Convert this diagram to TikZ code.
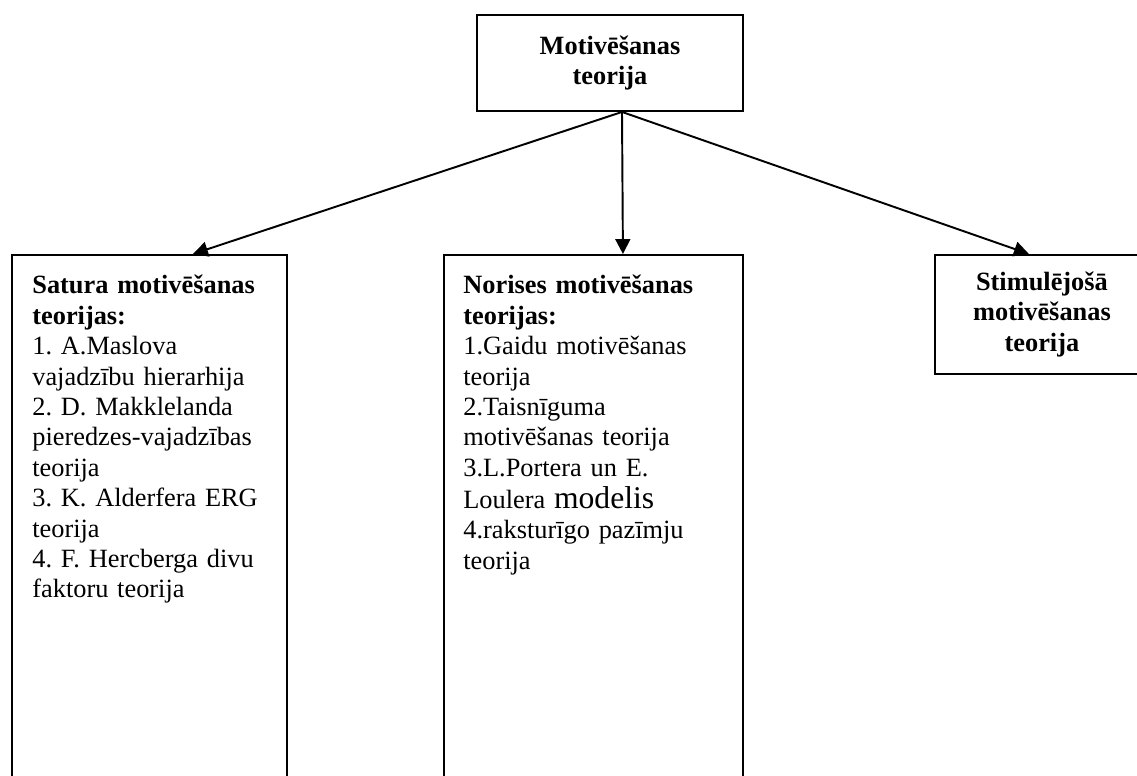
\documentclass[tikz,border=0pt]{standalone}
\usepackage{fontspec}
\setmainfont{Liberation Serif}
\usetikzlibrary{arrows.meta, positioning, calc}
\newcommand{\boxfont}{\fontsize{15}{17.3}\selectfont\frenchspacing}

\begin{document}
\begin{tikzpicture}[
  x=0.02cm, y=-0.02cm,
  every node/.style={font=\boxfont},
  theorybox/.style={draw, line width=1.1pt, inner sep=0pt},
  headbox/.style={theorybox, align=center, font=\boxfont\bfseries},
  listtext/.style={anchor=north west, align=left, text width=5.4cm, inner sep=0pt},
  arr/.style={-{Triangle[length=8.5pt, width=8.5pt]}, line width=1.1pt}
]
  \useasboundingbox (0,0) rectangle (1137,776);
  \clip (0,0) rectangle (1137,776);

  %% Top box
  \node[headbox, minimum width=5.32cm, minimum height=1.92cm] (root) at (610,63)
       {Motivēšanas\\teorija};

  %% Second row (the two long boxes run off the bottom)
  \node[theorybox, anchor=north west, minimum width=5.5cm, minimum height=12cm]
       (satura) at (11,254) {};
  \node[theorybox, anchor=north west, minimum width=5.98cm, minimum height=12cm]
       (norises) at (443,254) {};
  \node[headbox, anchor=north west, minimum width=4.28cm, minimum height=2.38cm]
       (stimul) at (934,254) {Stimulējošā\\motivēšanas\\teorija};

  %% Texts of the long boxes
  \node[listtext] (saturatxt) at (32,275)
       {\textbf{Satura motivēšanas}\\\textbf{teorijas:}\\
        1. A.Maslova\\vajadzību hierarhija\\
        2. D. Makklelanda\\pieredzes-vajadzības\\teorija\\
        3. K. Alderfera ERG\\teorija\\
        4. F. Hercberga divu\\faktoru teorija};
  \node[listtext] (norisestxt) at (463,275)
       {\textbf{Norises motivēšanas}\\\textbf{teorijas:}\\
        1.Gaidu motivēšanas\\teorija\\
        2.Taisnīguma\\motivēšanas teorija\\
        3.L.Portera un E.\\[1pt]
        Loulera {\fontsize{18}{17.3}\selectfont modelis}\\
        4.raksturīgo pazīmju\\teorija};

  %% Arrows
  \draw[arr] ($(root.south)+(12,0)$) -- ($(satura.north)+(43.5,0)$);
  \draw[arr] ($(root.south)+(12,0)$) -- ($(norises.north)+(29.5,0)$);
  \draw[arr] ($(root.south)+(12,0)$) -- ($(stimul.north)+(-13,0)$);
\end{tikzpicture}
\end{document}
